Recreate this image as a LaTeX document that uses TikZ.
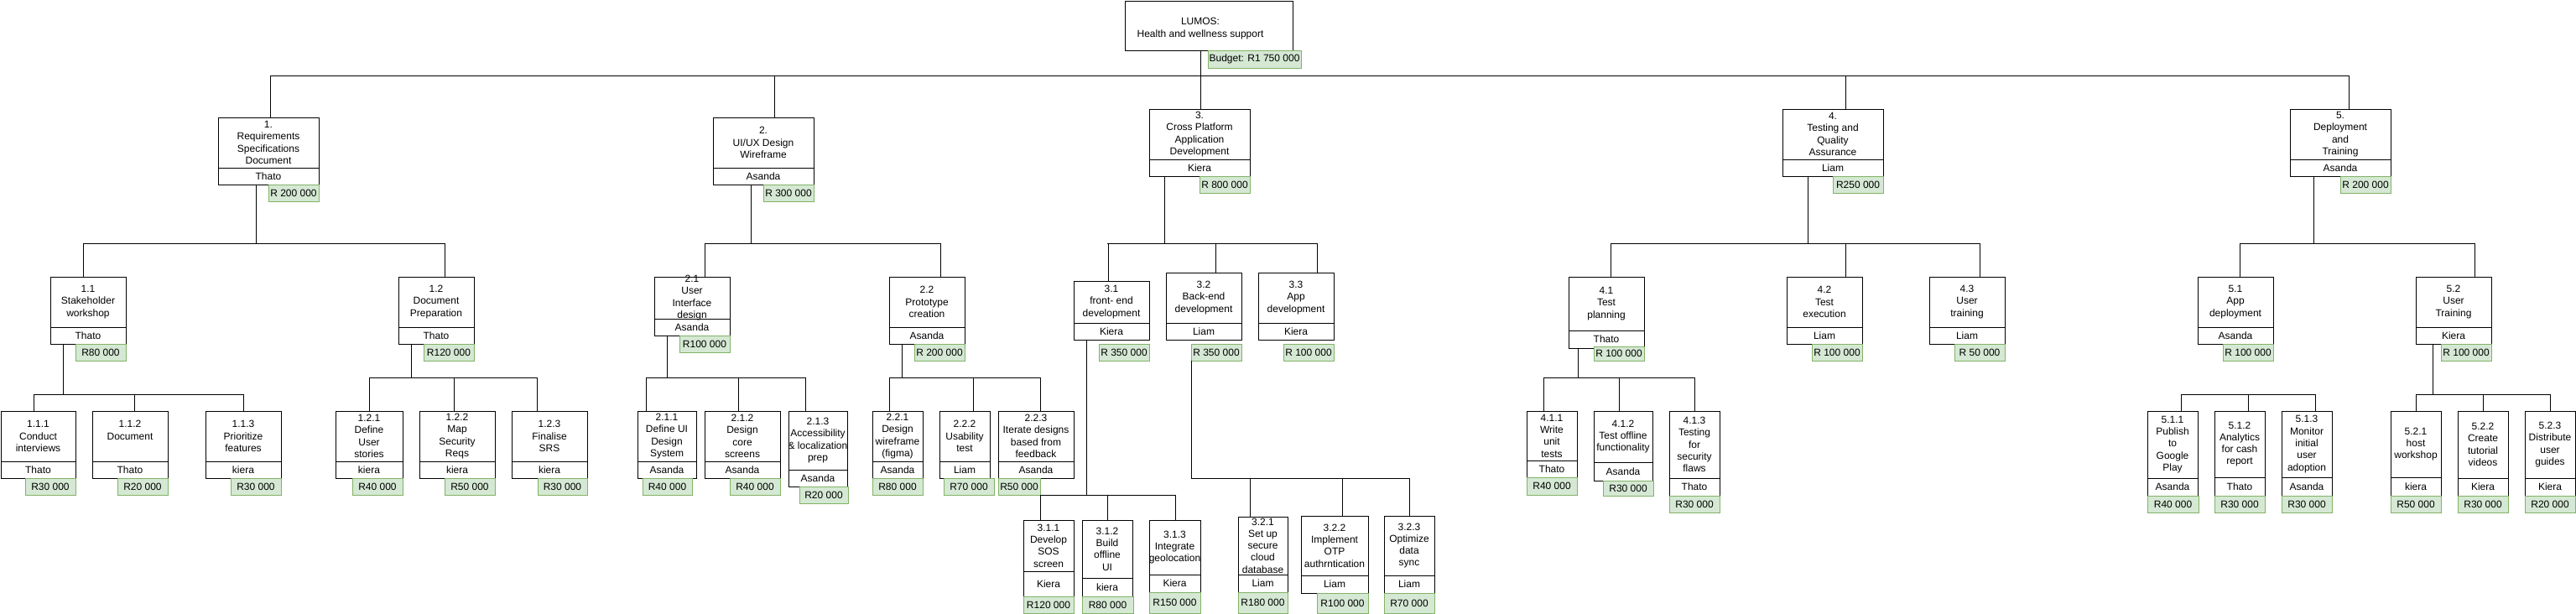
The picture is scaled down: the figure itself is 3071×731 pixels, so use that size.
\documentclass[tikz,border=0pt]{standalone}
\usepackage{fontspec}
\setmainfont{Liberation Sans}
\usepackage{xcolor}
\definecolor{budgetfill}{HTML}{D5E8D4}
\definecolor{budgetline}{HTML}{82B366}

\begin{document}
\begin{tikzpicture}[x=1pt,y=-1pt,
    box/.style={draw,fill=white,line width=1pt,inner sep=0pt,outer sep=0pt},
    txt/.style={align=center,inner sep=0pt,font=\fontsize{12}{14.3}\selectfont},
    budget/.style={draw=budgetline,fill=budgetfill,line width=1pt,inner sep=0pt,outer sep=0pt,font=\fontsize{12}{14.3}\selectfont},
    link/.style={line width=1pt}]
        % box: name, left, top, right, bottom, divider, title, owner
        \def\task#1#2#3#4#5#6#7#8{%
          \node[box,minimum width={(#4-#2)*1pt},minimum height={(#5-#3)*1pt}] (#1) at ({(#2+#4)/2},{(#3+#5)/2}) {};
          \draw[link] (#2,#6) -- (#4,#6);
          \node[txt] (#1t) at ({(#2+#4)/2},{(#3+#6)/2}) {#7};
          \node[txt] (#1o) at ({(#2+#4)/2},{(#6+#5)/2}) {#8};}
        % budget tag: name, left, top, right, bottom, text
        \def\cost#1#2#3#4#5#6{%
          \node[budget,minimum width={(#4-#2)*1pt},minimum height={(#5-#3)*1pt}] (#1) at ({(#2+#4)/2},{(#3+#5)/2}) {#6};}
        \useasboundingbox (0,0) rectangle (3071,731);

        % project
        \node[box,minimum width=200pt,minimum height=59pt] (lumos) at (1441,30.5) {};
        \node[txt] (lumost) at (1431,34) {LUMOS:\\Health and wellness support};
        \cost{c0}{1440}{60}{1551}{81}{Budget: R1 750 000}

        % level 1
        \task{n1}{260}{140}{380}{220}{200}{1.\\Requirements\\Specifications\\Document}{Thato}
        \task{n2}{850}{140}{970}{220}{200}{2.\\UI/UX Design\\Wireframe}{Asanda}
        \task{n3}{1370}{130}{1490}{210}{190}{3.\\Cross Platform\\Application\\Development}{Kiera}
        \task{n4}{2125}{130}{2245}{210}{190}{4.\\Testing and\\Quality\\Assurance}{Liam}
        \task{n5}{2730}{130}{2850}{210}{190}{5.\\Deployment\\and\\Training}{Asanda}
        \cost{c1}{320}{220}{380}{240}{R 200 000}
        \cost{c2}{910}{220}{970}{240}{R 300 000}
        \cost{c3}{1430}{210}{1490}{230}{R 800 000}
        \cost{c4}{2185}{210}{2245}{230}{R250 000}
        \cost{c5}{2790}{210}{2850}{230}{R 200 000}

        % level 2
        \task{n11}{60}{330}{150}{410}{390}{1.1\\Stakeholder\\workshop}{Thato}
        \task{n12}{475}{330}{565}{410}{390}{1.2\\Document\\Preparation}{Thato}
        \task{n21}{780}{330}{870}{400}{380}{2.1\\User\\Interface\\design}{Asanda}
        \task{n22}{1060}{330}{1150}{410}{390}{2.2\\Prototype\\creation}{Asanda}
        \task{n31}{1280}{335}{1370}{405}{385}{3.1\\front- end\\development}{Kiera}
        \task{n32}{1390}{325}{1480}{405}{385}{3.2\\Back-end\\development}{Liam}
        \task{n33}{1500}{325}{1590}{405}{385}{3.3\\App\\development}{Kiera}
        \task{n41}{1870}{330}{1960}{415}{394}{4.1\\Test\\planning}{Thato}
        \task{n42}{2130}{330}{2220}{410}{390}{4.2\\Test\\execution}{Liam}
        \task{n43}{2300}{330}{2390}{410}{390}{4.3\\User\\training}{Liam}
        \task{n51}{2620}{330}{2710}{410}{390}{5.1\\App\\deployment}{Asanda}
        \task{n52}{2880}{330}{2970}{410}{390}{5.2\\User\\Training}{Kiera}
        \cost{c11}{90}{410}{150}{430}{R80 000}
        \cost{c12}{505}{410}{565}{430}{R120 000}
        \cost{c21}{810}{400}{870}{420}{R100 000}
        \cost{c22}{1090}{410}{1150}{430}{R 200 000}
        \cost{c31}{1310}{410}{1370}{430}{R 350 000}
        \cost{c32}{1420}{410}{1480}{430}{R 350 000}
        \cost{c33}{1530}{410}{1590}{430}{R 100 000}
        \cost{c41}{1900}{413}{1960}{430}{R 100 000}
        \cost{c42}{2160}{410}{2220}{430}{R 100 000}
        \cost{c43}{2330}{410}{2390}{430}{R 50 000}
        \cost{c51}{2650}{410}{2710}{430}{R 100 000}
        \cost{c52}{2910}{410}{2970}{430}{R 100 000}

        % level 3
        \task{n111}{1}{490}{90}{570}{550}{1.1.1\\Conduct\\interviews}{Thato}
        \task{n112}{110}{490}{200}{570}{550}{1.1.2\\Document\\~}{Thato}
        \task{n113}{245}{490}{335}{570}{550}{1.1.3\\Prioritize\\features}{kiera}
        \task{n121}{400}{490}{480}{570}{550}{1.2.1\\Define\\User\\stories}{kiera}
        \task{n122}{500}{490}{590}{570}{550}{1.2.2\\Map\\Security\\Reqs}{kiera}
        \task{n123}{610}{490}{700}{570}{550}{1.2.3\\Finalise\\SRS}{kiera}
        \task{n211}{760}{490}{830}{570}{550}{2.1.1\\Define UI\\Design\\System}{Asanda}
        \task{n212}{840}{490}{930}{570}{550}{2.1.2\\Design\\core\\screens}{Asanda}
        \task{n213}{940}{490}{1010}{580}{560}{2.1.3\\Accessibility\\\& localization\\prep}{Asanda}
        \task{n221}{1040}{490}{1100}{570}{550}{2.2.1\\Design\\wireframe\\(figma)}{Asanda}
        \task{n222}{1120}{490}{1180}{570}{550}{2.2.2\\Usability\\test}{Liam}
        \task{n223}{1190}{490}{1280}{570}{550}{2.2.3\\Iterate designs\\based from\\feedback}{Asanda}
        \task{n311}{1220}{620}{1280}{711}{681}{3.1.1\\Develop\\SOS\\screen}{Kiera}
        \task{n312}{1290}{620}{1350}{711}{689}{3.1.2\\Build\\offline\\UI}{kiera}
        \task{n313}{1370}{620}{1431}{706}{685}{3.1.3\\Integrate\\geolocation}{Kiera}
        \task{n321}{1476}{616}{1535}{706}{685}{3.2.1\\Set up\\secure\\cloud\\database}{Liam}
        \task{n322}{1551}{615}{1631}{707}{686}{3.2.2\\Implement\\OTP\\authrntication}{Liam}
        \task{n323}{1650}{615}{1710}{707}{686}{3.2.3\\Optimize\\data\\sync}{Liam}
        \task{n411}{1820}{490}{1880}{569}{549}{4.1.1\\Write\\unit\\tests}{Thato}
        \task{n412}{1900}{490}{1970}{573}{551}{4.1.2\\Test offline\\functionality}{Asanda}
        \task{n413}{1990}{490}{2050}{591}{570}{4.1.3\\Testing\\for\\security\\flaws}{Thato}
        \task{n511}{2560}{490}{2620}{591}{570}{5.1.1\\Publish\\to\\Google\\Play}{Asanda}
        \task{n512}{2640}{490}{2700}{591}{569}{5.1.2\\Analytics\\for cash\\report}{Thato}
        \task{n513}{2720}{490}{2780}{591}{569}{5.1.3\\Monitor\\initial\\user\\adoption}{Asanda}
        \task{n521}{2850}{490}{2910}{591}{569}{5.2.1\\host\\workshop}{kiera}
        \task{n522}{2930}{490}{2990}{591}{570}{5.2.2\\Create\\tutorial\\videos}{Kiera}
        \task{n523}{3010}{490}{3070}{591}{570}{5.2.3\\Distribute\\user\\guides}{Kiera}
        \cost{c111}{30}{570}{90}{590}{R30 000}
        \cost{c112}{140}{570}{200}{590}{R20 000}
        \cost{c113}{275}{570}{335}{590}{R30 000}
        \cost{c121}{420}{570}{480}{590}{R40 000}
        \cost{c122}{530}{570}{590}{590}{R50 000}
        \cost{c123}{641}{570}{700}{590}{R30 000}
        \cost{c211}{766}{570}{825}{590}{R40 000}
        \cost{c212}{870}{570}{930}{590}{R40 000}
        \cost{c213}{953}{580}{1011}{600}{R20 000}
        \cost{c221}{1040}{570}{1100}{590}{R80 000}
        \cost{c222}{1125}{570}{1185}{590}{R70 000}
        \cost{c223}{1190}{570}{1240}{590}{R50 000}
        \cost{c311}{1220}{711}{1280}{731}{R120 000}
        \cost{c312}{1290}{711}{1351}{731}{R80 000}
        \cost{c313}{1370}{706}{1431}{731}{R150 000}
        \cost{c321}{1476}{706}{1535}{731}{R180 000}
        \cost{c322}{1570}{707}{1631}{731}{R100 000}
        \cost{c323}{1650}{707}{1710}{731}{R70 000}
        \cost{c411}{1820}{569}{1880}{590}{R40 000}
        \cost{c412}{1911}{573}{1971}{591}{R30 000}
        \cost{c413}{1990}{591}{2050}{611}{R30 000}
        \cost{c511}{2560}{591}{2621}{611}{R40 000}
        \cost{c512}{2640}{591}{2700}{611}{R30 000}
        \cost{c513}{2720}{591}{2780}{611}{R30 000}
        \cost{c521}{2850}{591}{2910}{611}{R50 000}
        \cost{c522}{2930}{591}{2990}{611}{R30 000}
        \cost{c523}{3010}{591}{3070}{611}{R20 000}

        % links
        \draw[link] (lumos.south -| 1431,0) -- (1431,90);
        \draw[link] (322,90) -- (2800,90);
        \foreach \kid/\px in {n1/322,n2/923,n3/1431,n4/2200,n5/2800}
          \draw[link] (\px,90) -- (\kid.north -| \px,0);

        \draw[link] (n1.south -| 305,0) -- (305,290);
        \draw[link] (99,290) -- (530,290);
        \foreach \kid/\px in {n11/99,n12/530}
          \draw[link] (\px,290) -- (\kid.north -| \px,0);

        \draw[link] (n2.south -| 895,0) -- (895,290);
        \draw[link] (840,290) -- (1121,290);
        \foreach \kid/\px in {n21/840,n22/1121}
          \draw[link] (\px,290) -- (\kid.north -| \px,0);

        \draw[link] (n3.south -| 1388,0) -- (1388,290);
        \draw[link] (1320,290) -- (1570,290);
        \foreach \kid/\px in {n31/1321,n32/1449,n33/1570}
          \draw[link] (\px,290) -- (\kid.north -| \px,0);

        \draw[link] (n4.south -| 2155,0) -- (2155,290);
        \draw[link] (1920,290) -- (2360,290);
        \foreach \kid/\px in {n41/1920,n42/2200,n43/2360}
          \draw[link] (\px,290) -- (\kid.north -| \px,0);

        \draw[link] (n5.south -| 2758,0) -- (2758,290);
        \draw[link] (2670,290) -- (2950,290);
        \foreach \kid/\px in {n51/2670,n52/2950}
          \draw[link] (\px,290) -- (\kid.north -| \px,0);

        \draw[link] (n11.south -| 75,0) -- (75,470);
        \draw[link] (40,470) -- (290,470);
        \foreach \kid/\px in {n111/40,n112/160,n113/290}
          \draw[link] (\px,470) -- (\kid.north -| \px,0);

        \draw[link] (n12.south -| 490,0) -- (490,450);
        \draw[link] (440,450) -- (640,450);
        \foreach \kid/\px in {n121/440,n122/541,n123/640}
          \draw[link] (\px,450) -- (\kid.north -| \px,0);

        \draw[link] (n21.south -| 795,0) -- (795,450);
        \draw[link] (770,450) -- (960,450);
        \foreach \kid/\px in {n211/770,n212/880,n213/960}
          \draw[link] (\px,450) -- (\kid.north -| \px,0);

        \draw[link] (n22.south -| 1075,0) -- (1075,450);
        \draw[link] (1060,450) -- (1240,450);
        \foreach \kid/\px in {n221/1060,n222/1160,n223/1240}
          \draw[link] (\px,450) -- (\kid.north -| \px,0);

        \draw[link] (n31.south -| 1295,0) -- (1295,590);
        \draw[link] (1240,590) -- (1401,590);
        \foreach \kid/\px in {n311/1240,n312/1320,n313/1401}
          \draw[link] (\px,590) -- (\kid.north -| \px,0);

        \draw[link] (c32.south -| 1420,0) -- (1420,570);
        \draw[link] (1420,570) -- (1680,570);
        \foreach \kid/\px in {n321/1490,n322/1600,n323/1680}
          \draw[link] (\px,570) -- (\kid.north -| \px,0);

        \draw[link] (n41.south -| 1881,0) -- (1881,450);
        \draw[link] (1840,450) -- (2020,450);
        \foreach \kid/\px in {n411/1840,n412/1930,n413/2020}
          \draw[link] (\px,450) -- (\kid.north -| \px,0);

        \draw[link] (2600,470) -- (2760,470);
        \foreach \kid/\px in {n511/2600,n512/2680,n513/2760}
          \draw[link] (\px,470) -- (\kid.north -| \px,0);

        \draw[link] (n52.south -| 2900,0) -- (2900,470);
        \draw[link] (2880,470) -- (3040,470);
        \foreach \kid/\px in {n521/2880,n522/2960,n523/3040}
          \draw[link] (\px,470) -- (\kid.north -| \px,0);
\end{tikzpicture}
\end{document}
